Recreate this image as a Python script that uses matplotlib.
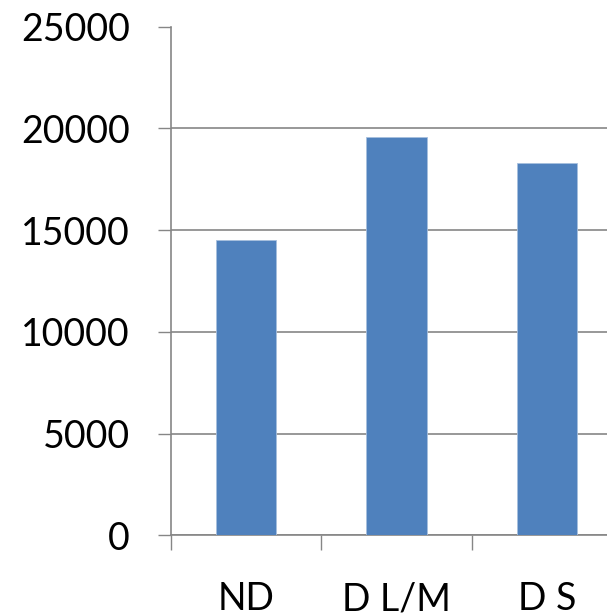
import matplotlib.pyplot as plt
import numpy as np

categories = ["ND", "D L/M", "D S"]
values = [14500, 19600, 18300]
y_ticks = [0, 5000, 10000, 15000, 20000, 25000]

bar_color = "#4F81BD"
grid_color = "#868686"

plt.rcParams["font.family"] = ["Lato", "DejaVu Sans"]

fig = plt.figure(figsize=(6.07, 6.16), dpi=100)
# plot area runs past the right edge of the picture, like the cropped original
ax = fig.add_axes([0.2817, 0.1307, 0.743, 0.8261])

x = np.arange(len(categories))
ax.bar(x, values, width=0.4, color=bar_color, edgecolor="#A7BFDE", linewidth=0.6, zorder=3)

ax.set_xlim(-0.5, len(categories) - 0.5)
ax.set_ylim(0, 25000)

# y axis
ax.set_yticks(y_ticks)
ax.set_yticklabels([str(v) for v in y_ticks])
ax.tick_params(axis="y", direction="out", length=9.5, width=1, color=grid_color,
               labelsize=27, pad=20)
ax.yaxis.grid(True, color=grid_color, linewidth=1.2, zorder=0)
for line, v in zip(ax.yaxis.get_gridlines(), y_ticks):
    if v == y_ticks[-1]:
        line.set_visible(False)

# x axis: ticks at category borders, labels in the middle
ax.set_xticks(np.arange(len(categories) + 1) - 0.5)
ax.set_xticklabels([])
ax.set_xticks(x, minor=True)
ax.set_xticklabels(categories, minor=True)
ax.tick_params(axis="x", which="major", direction="out", length=11, width=1, color=grid_color)
ax.tick_params(axis="x", which="minor", length=0, labelsize=27, pad=33)

for s in ["top", "right"]:
    ax.spines[s].set_visible(False)
for s in ["left", "bottom"]:
    ax.spines[s].set_color(grid_color)
    ax.spines[s].set_linewidth(1.2)

ax.set_axisbelow(True)
fig.savefig("out.png", dpi=100)
